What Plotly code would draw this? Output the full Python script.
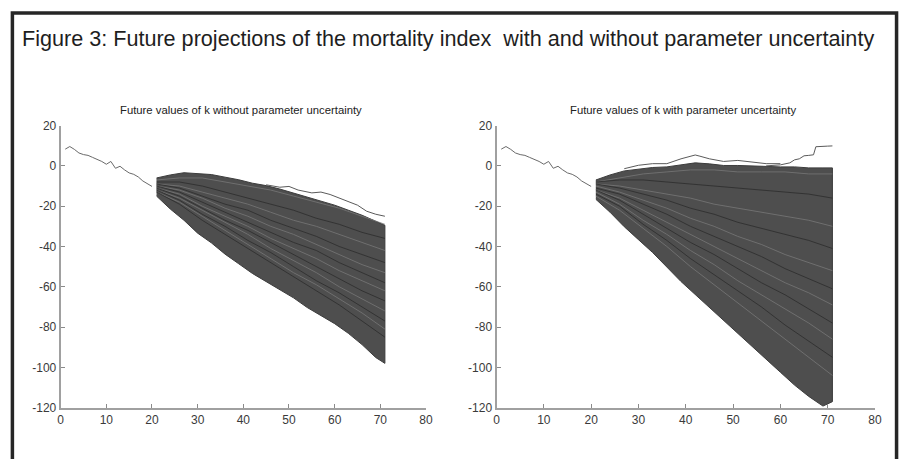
import plotly.graph_objects as go

W, H = 909, 459

# ---------------- data ----------------
HIST_X = list(range(1, 21))
HIST_K = [8.3, 9.6, 8.2, 6.4, 5.6, 5.2, 4.2, 3.3, 2.2, 0.8, 2.2, -1.2, -0.2,
          -2.0, -3.5, -4.2, -5.5, -7.5, -8.8, -10.2]

FAN_X = [21, 24, 27, 30, 33, 36, 39, 42, 45, 48, 51, 54, 57, 60, 63, 66, 69, 71]

LEFT_UPPER = [-6.0, -4.5, -3.4, -3.8, -4.3, -5.6, -6.9, -8.6, -9.8, -11.5, -13.5,
              -15.5, -17.5, -19.5, -22.0, -24.5, -27.5, -29.5]
LEFT_LOWER = [-15.0, -21.4, -27.0, -33.4, -38.2, -43.8, -48.6, -53.4, -57.4, -61.5,
              -65.5, -70.3, -74.3, -78.3, -83.1, -88.7, -95.1, -98.0]
LEFT_OUT_X = [45, 48, 50, 52, 55, 57, 59, 61, 63, 65, 67, 69, 71]
LEFT_OUT_Y = [-9.4, -10.6, -10.2, -12.0, -13.4, -13.0, -14.2, -16.0, -17.5, -19.5,
              -22.5, -24.0, -25.0]

RIGHT_UPPER = [-7.0, -4.5, -2.5, -1.5, -0.8, -0.5, 0.5, 1.5, 1.0, 0.2, 0.2, 0.0,
               -0.5, -0.5, -0.5, -1.0, -1.0, -1.0]
RIGHT_LOWER = [-16.6, -23.0, -30.2, -36.6, -43.0, -50.2, -57.4, -63.9, -70.3, -76.7,
               -83.1, -89.5, -95.9, -102.4, -108.8, -114.4, -119.2, -117.0]
RIGHT_OUT_A_X = [27, 30, 33, 36, 39, 41, 42, 43, 45, 48, 51, 54, 57, 60]
RIGHT_OUT_A_Y = [-1.4, 0.3, 1.1, 1.1, 3.5, 5.0, 5.4, 4.8, 3.5, 2.2, 2.7, 1.9, 1.1, 1.1]
RIGHT_OUT_B_X = [57, 60, 62, 63, 64, 65, 66, 67, 67.5, 68, 69, 70, 71]
RIGHT_OUT_B_Y = [0.0, 0.5, 1.5, 3.0, 3.5, 5.0, 5.2, 5.5, 9.5, 9.5, 9.6, 9.8, 9.9]

# a few representative simulated paths (texture), read approximately
PATH_X = [21, 26, 31, 36, 41, 46, 51, 56, 61, 66, 71]
LEFT_PATHS = [
    [-7, -6, -6, -8, -10, -12, -15, -18, -21, -25, -29],
    [-8, -8, -10, -13, -16, -19, -22, -26, -29, -33, -36],
    [-9, -10, -13, -16, -19, -23, -27, -30, -34, -38, -42],
    [-9, -11, -15, -19, -22, -27, -31, -35, -40, -44, -48],
    [-10, -12, -16, -21, -25, -30, -34, -39, -44, -49, -53],
    [-10, -13, -18, -23, -28, -33, -38, -42, -48, -53, -58],
    [-11, -14, -20, -25, -30, -36, -41, -46, -52, -57, -62],
    [-11, -15, -21, -27, -32, -38, -44, -50, -56, -62, -67],
    [-12, -16, -22, -28, -34, -41, -47, -53, -60, -66, -72],
    [-12, -17, -24, -30, -37, -43, -50, -57, -63, -70, -77],
    [-13, -18, -25, -32, -39, -46, -53, -59, -66, -73, -81],
    [-13, -19, -27, -34, -41, -48, -55, -62, -69, -77, -85],
]
RIGHT_PATHS = [
    [-8, -6, -4, -3, -2, -2, -3, -3, -3, -4, -4],
    [-8, -7, -7, -8, -9, -10, -11, -12, -13, -14, -16],
    [-9, -10, -12, -14, -16, -19, -21, -23, -25, -27, -30],
    [-9, -11, -14, -17, -21, -24, -28, -31, -34, -37, -41],
    [-10, -13, -17, -21, -26, -30, -35, -39, -44, -48, -52],
    [-11, -14, -19, -24, -30, -35, -40, -45, -51, -56, -61],
    [-12, -16, -22, -28, -34, -40, -46, -52, -58, -63, -69],
    [-12, -17, -24, -31, -38, -44, -51, -58, -64, -71, -78],
    [-13, -19, -27, -34, -42, -49, -57, -64, -71, -78, -86],
    [-14, -20, -29, -37, -46, -54, -62, -70, -79, -87, -95],
    [-15, -22, -31, -40, -50, -59, -68, -77, -86, -95, -104],
]

TITLE = "Figure 3: Future projections of the mortality index \u00a0with and without parameter uncertainty"
SUB_LEFT = "Future values of k without parameter uncertainty"
SUB_RIGHT = "Future values of k with parameter uncertainty"
X_TICKS = [0, 10, 20, 30, 40, 50, 60, 70, 80]
Y_TICKS = [20, 0, -20, -40, -60, -80, -100, -120]

# ---------------- figure ----------------
fig = go.Figure()

FILL = "#4e4e4e"
EDGE = "#3c3c3c"
FONT = "Arial, Liberation Sans"


def add_panel(xa, ya, upper, lower, paths, outliers):
    fig.add_trace(go.Scatter(x=HIST_X, y=HIST_K, mode="lines", xaxis=xa, yaxis=ya,
                             line=dict(color="#6a6a6a", width=1), showlegend=False,
                             hoverinfo="skip"))
    poly_x = FAN_X + FAN_X[::-1]
    poly_y = upper + lower[::-1]
    fig.add_trace(go.Scatter(x=poly_x, y=poly_y, mode="lines", fill="toself",
                             fillcolor=FILL, xaxis=xa, yaxis=ya,
                             line=dict(color=EDGE, width=1), showlegend=False,
                             hoverinfo="skip"))
    for i, p in enumerate(paths):
        fig.add_trace(go.Scatter(x=PATH_X, y=p, mode="lines", xaxis=xa, yaxis=ya,
                                 line=dict(color="#777777" if i % 2 == 0 else "#2c2c2c",
                                           width=0.8),
                                 showlegend=False, hoverinfo="skip"))
    for ox, oy in outliers:
        fig.add_trace(go.Scatter(x=ox, y=oy, mode="lines", xaxis=xa, yaxis=ya,
                                 line=dict(color="#5a5a5a", width=1), showlegend=False,
                                 hoverinfo="skip"))


add_panel("x", "y", LEFT_UPPER, LEFT_LOWER, LEFT_PATHS, [(LEFT_OUT_X, LEFT_OUT_Y)])
add_panel("x2", "y2", RIGHT_UPPER, RIGHT_LOWER, RIGHT_PATHS,
          [(RIGHT_OUT_A_X, RIGHT_OUT_A_Y), (RIGHT_OUT_B_X, RIGHT_OUT_B_Y)])

ydom = [1 - 413.3 / H, 1 - 122.3 / H]
axis_common = dict(showgrid=False, zeroline=False, showline=True, linecolor="#a0a0a0",
                   linewidth=2, ticks="inside", ticklen=4, tickcolor="#8a8a8a",
                   tickwidth=1, tickfont=dict(family=FONT, size=12, color="#3a3a3a"))
xcommon = dict(axis_common, range=[0, 80], tickvals=X_TICKS,
               ticktext=[str(v) for v in X_TICKS])
ycommon = dict(axis_common, range=[-120, 20], tickvals=Y_TICKS,
               ticktext=[str(v) for v in Y_TICKS])

fig.update_layout(
    width=W, height=H,
    margin=dict(l=0, r=0, t=0, b=0),
    paper_bgcolor="white", plot_bgcolor="white",
    xaxis=dict(xcommon, domain=[58.3 / W, 427.7 / W], anchor="y"),
    yaxis=dict(ycommon, domain=ydom, anchor="x"),
    xaxis2=dict(xcommon, domain=[499 / W, 881.7 / W], anchor="y2"),
    yaxis2=dict(ycommon, domain=ydom, anchor="x2"),
    annotations=[
        dict(text=TITLE, x=449.5 / W, y=1 - 33 / H, xref="paper", yref="paper",
             showarrow=False, xanchor="center", yanchor="middle",
             font=dict(family=FONT, size=21.6, color="#1e1e1e")),
        dict(text=SUB_LEFT, x=241 / W, y=1 - 106 / H, xref="paper", yref="paper",
             showarrow=False, xanchor="center", yanchor="middle",
             font=dict(family=FONT, size=11.3, color="#222222")),
        dict(text=SUB_RIGHT, x=688 / W, y=1 - 106 / H, xref="paper", yref="paper",
             showarrow=False, xanchor="center", yanchor="middle",
             font=dict(family=FONT, size=11.3, color="#222222")),
    ],
    shapes=[
        dict(type="rect", xref="paper", yref="paper", x0=9.5 / W, x1=903.5 / W,
             y0=-0.05, y1=1 - 6.2 / H, line=dict(color="#262626", width=3.5),
             fillcolor="rgba(0,0,0,0)", layer="above"),
    ],
)

fig.write_html("out.html")
